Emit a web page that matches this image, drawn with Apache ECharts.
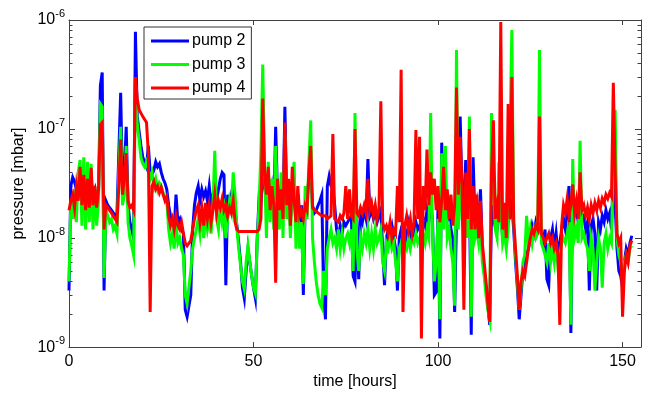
<!DOCTYPE html>
<html><head><meta charset="utf-8">
<script src="https://cdn.jsdelivr.net/npm/echarts@6/dist/echarts.min.js"></script>
<style>html,body{margin:0;padding:0;background:#fff}#c{width:648px;height:395px}</style>
</head><body><div id="c"></div><script>
const hours = [
0,0.5,1,1.5,2,2.5,3,3.5,4,4.5,
5,5.5,6,6.5,7,7.5,8,8.5,9,9.5,
10,10.5,11,11.5,12,12.5,13,13.5,14,14.5,
15,15.5,16,16.5,17,17.5,18,18.5,19,19.5,
20,20.5,21,21.5,22,22.5,23,23.5,24,24.5,
25,25.5,26,26.5,27,27.5,28,28.5,29,29.5,
30,30.5,31,31.5,32,32.5,33,33.5,34,34.5,
35,35.5,36,36.5,37,37.5,38,38.5,39,39.5,
40,40.5,41,41.5,42,42.5,43,43.5,44,44.5,
45,45.5,46,46.5,47,47.5,48,48.5,49,49.5,
50,50.5,51,51.5,52,52.5,53,53.5,54,54.5,
55,55.5,56,56.5,57,57.5,58,58.5,59,59.5,
60,60.5,61,61.5,62,62.5,63,63.5,64,64.5,
65,65.5,66,66.5,67,67.5,68,68.5,69,69.5,
70,70.5,71,71.5,72,72.5,73,73.5,74,74.5,
75,75.5,76,76.5,77,77.5,78,78.5,79,79.5,
80,80.5,81,81.5,82,82.5,83,83.5,84,84.5,
85,85.5,86,86.5,87,87.5,88,88.5,89,89.5,
90,90.5,91,91.5,92,92.5,93,93.5,94,94.5,
95,95.5,96,96.5,97,97.5,98,98.5,99,99.5,
100,100.5,101,101.5,102,102.5,103,103.5,104,104.5,
105,105.5,106,106.5,107,107.5,108,108.5,109,109.5,
110,110.5,111,111.5,112,112.5,113,113.5,114,114.5,
115,115.5,116,116.5,117,117.5,118,118.5,119,119.5,
120,120.5,121,121.5,122,122.5,123,123.5,124,124.5,
125,125.5,126,126.5,127,127.5,128,128.5,129,129.5,
130,130.5,131,131.5,132,132.5,133,133.5,134,134.5,
135,135.5,136,136.5,137,137.5,138,138.5,139,139.5,
140,140.5,141,141.5,142,142.5,143,143.5,144,144.5,
145,145.5,146,146.5,147,147.5,148,148.5,149,149.5,
150,150.5,151,151.5,152,152.5];

const pump2 = [
3.3e-9,30e-9,36e-9,33e-9,28e-9,34e-9,38e-9,26e-9,32e-9,24e-9,
30e-9,22e-9,34e-9,25e-9,28e-9,20e-9,26e-9,250e-9,330e-9,3.3e-9,
22e-9,20e-9,19e-9,18e-9,17e-9,16e-9,17e-9,60e-9,215e-9,30e-9,
40e-9,105e-9,20e-9,14e-9,12e-9,10e-9,780e-9,130e-9,95e-9,70e-9,
55e-9,50e-9,45e-9,70e-9,40e-9,38e-9,42e-9,50e-9,45e-9,48e-9,
40e-9,35e-9,32e-9,28e-9,20e-9,16e-9,14e-9,12e-9,25e-9,14e-9,
15e-9,12e-9,11e-9,2.2e-9,1.9e-9,1.9e-9,3.0e-9,12e-9,20e-9,26e-9,
30e-9,22e-9,28e-9,24e-9,27e-9,22e-9,30e-9,20e-9,25e-9,30e-9,
22e-9,28e-9,35e-9,40e-9,38e-9,3.7e-9,25e-9,20e-9,25e-9,22e-9,
18e-9,13e-9,9e-9,6e-9,3.5e-9,2.8e-9,5e-9,8e-9,6e-9,4.5e-9,
3.5e-9,2.8e-9,10e-9,23e-9,20e-9,40e-9,30e-9,22e-9,35e-9,20e-9,
28e-9,18e-9,105e-9,25e-9,20e-9,30e-9,18e-9,160e-9,22e-9,30e-9,
15e-9,25e-9,30e-9,15e-9,25e-9,12e-9,20e-9,3.0e-9,20e-9,22e-9,
35e-9,40e-9,20e-9,17e-9,18e-9,20e-9,22e-9,25e-9,3.0e-9,1.8e-9,
30e-9,37e-9,30e-9,28e-9,20e-9,12e-9,10e-9,13e-9,11e-9,14e-9,
13e-9,14e-9,15e-9,16e-9,4.5e-9,4e-9,15e-9,4.2e-9,16e-9,14e-9,
18e-9,15e-9,53e-9,16e-9,18e-9,15e-9,17e-9,14e-9,16e-9,18e-9,
8e-9,3.7e-9,10e-9,12e-9,11e-9,13e-9,10e-9,8e-9,3.3e-9,10e-9,
12e-9,11e-9,12e-9,10e-9,13e-9,9e-9,12e-9,10e-9,14e-9,12e-9,
13e-9,12e-9,15e-9,13e-9,18e-9,14e-9,20e-9,15e-9,3.0e-9,3.2e-9,
20e-9,1.2e-9,75e-9,18e-9,20e-9,15e-9,18e-9,12e-9,10e-9,2.1e-9,
15e-9,20e-9,130e-9,25e-9,20e-9,52e-9,18e-9,25e-9,1.3e-9,55e-9,
15e-9,20e-9,12e-9,28e-9,8e-9,5e-9,3.5e-9,2.4e-9,1.6e-9,20e-9,
15e-9,18e-9,12e-9,16e-9,20e-9,10e-9,15e-9,9e-9,14e-9,16e-9,
20e-9,12e-9,6e-9,3.5e-9,1.8e-9,3.0e-9,5e-9,6e-9,7e-9,8e-9,
10e-9,13e-9,11e-9,14e-9,12e-9,13e-9,11e-9,9e-9,12e-9,4.2e-9,
3.7e-9,10e-9,12e-9,8e-9,11e-9,7e-9,9e-9,12e-9,15e-9,12e-9,
18e-9,30e-9,1.35e-9,28e-9,16e-9,18e-9,14e-9,20e-9,15e-9,16e-9,
12e-9,14e-9,3.3e-9,13e-9,15e-9,11e-9,3.3e-9,14e-9,12e-9,16e-9,
14e-9,18e-9,15e-9,17e-9,12e-9,40e-9,20e-9,8e-9,5e-9,4.5e-9,
3.5e-9,6e-9,8e-9,7e-9,9e-9,10.5e-9];

const pump3 = [
4.0e-9,22e-9,15e-9,28e-9,14e-9,40e-9,52e-9,13e-9,55e-9,12e-9,
50e-9,14e-9,48e-9,12e-9,30e-9,13e-9,22e-9,170e-9,160e-9,4.3e-9,
18e-9,16e-9,14e-9,15e-9,12e-9,13e-9,11e-9,40e-9,105e-9,20e-9,
25e-9,70e-9,14e-9,10e-9,8.5e-9,7e-9,250e-9,110e-9,80e-9,55e-9,
48e-9,45e-9,50e-9,42e-9,35e-9,40e-9,30e-9,35e-9,28e-9,32e-9,
30e-9,26e-9,25e-9,22e-9,12e-9,9e-9,11e-9,8e-9,14e-9,9e-9,
10e-9,8e-9,7e-9,3.0e-9,2.5e-9,2.6e-9,5e-9,8e-9,10e-9,12e-9,
15e-9,11e-9,18e-9,10e-9,16e-9,12e-9,15e-9,11e-9,20e-9,63e-9,
15e-9,12e-9,20e-9,14e-9,18e-9,10e-9,15e-9,22e-9,18e-9,40e-9,
25e-9,12e-9,8e-9,5.5e-9,4e-9,3.4e-9,6e-9,8.5e-9,6e-9,4.5e-9,
3.5e-9,3.1e-9,9e-9,20e-9,62e-9,390e-9,45e-9,10e-9,50e-9,14e-9,
35e-9,12e-9,70e-9,22e-9,12e-9,40e-9,10e-9,90e-9,15e-9,25e-9,
10e-9,30e-9,50e-9,8e-9,20e-9,8e-9,14e-9,3.8e-9,30e-9,15e-9,
50e-9,120e-9,10e-9,6e-9,4e-9,3e-9,2.5e-9,2.3e-9,5e-9,3.0e-9,
8e-9,10e-9,12e-9,9e-9,10e-9,8e-9,12e-9,8e-9,11e-9,8e-9,
10e-9,11e-9,9e-9,12e-9,5e-9,140e-9,8e-9,5e-9,10e-9,8e-9,
11e-9,9e-9,12e-9,8e-9,11e-9,8e-9,12e-9,9e-9,10e-9,12e-9,
6e-9,5e-9,9e-9,8e-9,10e-9,8e-9,9e-9,6e-9,4e-9,8e-9,
9e-9,8e-9,9e-9,8e-9,10e-9,8e-9,10e-9,9e-9,11e-9,9e-9,
10e-9,9e-9,11e-9,9e-9,12e-9,10e-9,140e-9,12e-9,4e-9,6e-9,
15e-9,1.8e-9,60e-9,12e-9,70e-9,10e-9,12e-9,8e-9,6e-9,2.4e-9,
530e-9,12e-9,60e-9,15e-9,12e-9,30e-9,10e-9,130e-9,1.9e-9,20e-9,
10e-9,12e-9,9e-9,14e-9,6e-9,4.5e-9,3e-9,2.2e-9,1.8e-9,140e-9,
30e-9,12e-9,10e-9,50e-9,18e-9,9e-9,11e-9,8e-9,12e-9,12e-9,
810e-9,15e-9,7e-9,4e-9,2.2e-9,3.5e-9,6e-9,7e-9,16e-9,9e-9,
12e-9,9e-9,12e-9,10e-9,11e-9,530e-9,9e-9,8e-9,7e-9,6e-9,
9e-9,6e-9,8e-9,6e-9,9e-9,5.5e-9,7e-9,9e-9,10e-9,9e-9,
11e-9,14e-9,1.6e-9,53e-9,10e-9,12e-9,9e-9,78e-9,10e-9,11e-9,
9e-9,8e-9,5e-9,10e-9,8e-9,3.3e-9,6e-9,10e-9,8e-9,3.5e-9,
9e-9,11e-9,8e-9,10e-9,9e-9,60e-9,150e-9,10e-9,7e-9,6e-9,
4e-9,6e-9,7e-9,6e-9,8e-9,8.5e-9];

const pump4 = [
18e-9,22e-9,25e-9,19e-9,30e-9,22e-9,45e-9,20e-9,38e-9,18e-9,
35e-9,19e-9,44e-9,20e-9,30e-9,19e-9,28e-9,110e-9,115e-9,12e-9,
20e-9,19e-9,19e-9,17e-9,17e-9,15e-9,14e-9,30e-9,80e-9,25e-9,
35e-9,60e-9,22e-9,19e-9,20e-9,18e-9,300e-9,190e-9,150e-9,140e-9,
130e-9,125e-9,115e-9,60e-9,2.1e-9,30e-9,33e-9,28e-9,30e-9,26e-9,
29e-9,25e-9,22e-9,24e-9,16e-9,13e-9,15e-9,12e-9,16e-9,13e-9,
12e-9,14e-9,11e-9,9e-9,8.5e-9,8.6e-9,9.5e-9,12e-9,15e-9,18e-9,
20e-9,14e-9,19e-9,13e-9,21e-9,15e-9,20e-9,14e-9,18e-9,25e-9,
17e-9,22e-9,19e-9,23e-9,18e-9,20e-9,16e-9,19e-9,17e-9,22e-9,
14e-9,12e-9,11.5e-9,11.5e-9,11.5e-9,11.2e-9,11.5e-9,11.5e-9,11.5e-9,11.3e-9,
11.5e-9,11.5e-9,11.5e-9,12e-9,15e-9,190e-9,40e-9,25e-9,45e-9,18e-9,
30e-9,20e-9,3.9e-9,35e-9,18e-9,28e-9,15e-9,115e-9,20e-9,35e-9,
13e-9,45e-9,22e-9,14e-9,30e-9,16e-9,18e-9,15e-9,20e-9,18e-9,
40e-9,70e-9,19e-9,18e-9,18e-9,17e-9,17e-9,16e-9,16e-9,16e-9,
15e-9,15e-9,16e-9,90e-9,15e-9,15e-9,14e-9,16e-9,15e-9,17e-9,
30e-9,15e-9,28e-9,16e-9,15e-9,100e-9,17e-9,16e-9,19e-9,17e-9,
20e-9,17e-9,35e-9,18e-9,21e-9,16e-9,20e-9,15e-9,18e-9,180e-9,
14e-9,12e-9,13e-9,11e-9,14e-9,10e-9,12e-9,11e-9,30e-9,14e-9,
350e-9,2.1e-9,13e-9,16e-9,12e-9,15e-9,11e-9,14e-9,98e-9,15e-9,
85e-9,1.2e-9,30e-9,18e-9,65e-9,20e-9,40e-9,25e-9,35e-9,18e-9,
30e-9,14e-9,22e-9,45e-9,18e-9,28e-9,15e-9,25e-9,13e-9,20e-9,
240e-9,25e-9,85e-9,30e-9,2.2e-9,40e-9,15e-9,100e-9,12e-9,30e-9,
12e-9,25e-9,10e-9,22e-9,9e-9,6e-9,4e-9,2.5e-9,1.7e-9,40e-9,
120e-9,15e-9,20e-9,14e-9,960e-9,12e-9,21e-9,10e-9,170e-9,15e-9,
300e-9,14e-9,8e-9,4.5e-9,2.2e-9,4e-9,5e-9,4.5e-9,6e-9,8e-9,
10e-9,12e-9,11e-9,13e-9,12e-9,130e-9,11e-9,10e-9,9e-9,10e-9,
11e-9,9e-9,10e-9,8e-9,9e-9,7e-9,1.6e-9,13e-9,20e-9,17e-9,
23e-9,16e-9,20e-9,31e-9,17e-9,22e-9,15e-9,40e-9,18e-9,20e-9,
16e-9,19e-9,15e-9,20e-9,17e-9,21e-9,18e-9,22e-9,19e-9,23e-9,
21e-9,25e-9,23e-9,26e-9,24e-9,265e-9,40e-9,11e-9,9e-9,10e-9,
1.9e-9,5e-9,7e-9,6e-9,8.5e-9,9.5e-9];

const seriesNames = ['pump 2', 'pump 3', 'pump 4'];
const seriesColors = ['#0000ff', '#00ff00', '#ff0000'];
const xTicks = [0, 50, 100, 150];
const yDecades = [-9, -8, -7, -6];
const minorFactors = [2, 3, 4, 5, 6, 7, 8, 9];

const FONT = "'Liberation Sans', Arial, sans-serif";
const AXIS_COLOR = '#404040';

const minorLog = [];
for (let d = -9; d < -6; d++) for (const k of minorFactors) minorLog.push(d + Math.log10(k));

const chart = echarts.init(document.getElementById('c'), null, {renderer: 'canvas'});
const values = [pump2, pump3, pump4];

function expLabel(v) {
  const e = Math.round(Math.log10(v));
  return '{b|10}{e|' + e + '}';
}
const richLabel = {
  b: {fontSize: 16, fontFamily: FONT, color: '#000'},
  e: {fontSize: 11, fontFamily: FONT, color: '#000', padding: [0, 0, 12, 0]}
};

const xBase = {
  type: 'value', min: 0, max: 155, interval: 50,
  splitLine: {show: false},
  axisLine: {show: true, onZero: false, lineStyle: {color: AXIS_COLOR, width: 1}},
  axisTick: {show: true, inside: true, length: 5, lineStyle: {color: AXIS_COLOR}, customValues: xTicks}
};
const logBase = {
  type: 'log', logBase: 10, min: 1e-9, max: 1e-6,
  splitLine: {show: false},
  axisLine: {show: true, lineStyle: {color: AXIS_COLOR, width: 1}},
  axisTick: {show: true, inside: true, length: 6, lineStyle: {color: AXIS_COLOR}}
};
const minorBase = {
  type: 'value', min: -9, max: -6,
  splitLine: {show: false},
  axisLine: {show: false},
  axisLabel: {show: false},
  axisTick: {show: true, inside: true, length: 3.5, lineStyle: {color: AXIS_COLOR}, customValues: minorLog}
};

chart.setOption({
  animation: false,
  backgroundColor: '#ffffff',
  textStyle: {fontFamily: FONT},
  grid: {left: 69, right: 7, top: 20, bottom: 45, containLabel: false},
  legend: {
    orient: 'vertical', left: 144, top: 27,
    padding: [5, 6, 2, 7], itemGap: 5.5,
    itemWidth: 38, itemHeight: 3, icon: 'rect',
    backgroundColor: '#ffffff', borderColor: '#333333', borderWidth: 1, borderRadius: 0,
    textStyle: {fontSize: 16, color: '#000', fontFamily: FONT, lineHeight: 18, padding: [0, 0, 0, -2]},
    data: seriesNames
  },
  xAxis: [
    Object.assign({}, xBase, {
      position: 'bottom',
      axisLabel: {show: true, fontSize: 16, color: '#000', fontFamily: FONT, margin: 6, customValues: xTicks},
      name: 'time [hours]', nameLocation: 'middle', nameGap: 26,
      nameTextStyle: {fontSize: 16, color: '#000', fontFamily: FONT}
    }),
    Object.assign({}, xBase, {position: 'top', axisLabel: {show: false}})
  ],
  yAxis: [
    Object.assign({}, logBase, {
      position: 'left',
      axisLabel: {show: true, margin: 4, formatter: expLabel, rich: richLabel},
      name: 'pressure [mbar]', nameLocation: 'middle', nameGap: 35,
      nameTextStyle: {fontSize: 16, color: '#000', fontFamily: FONT}
    }),
    Object.assign({}, minorBase, {position: 'left'}),
    Object.assign({}, logBase, {position: 'right', axisLabel: {show: false}}),
    Object.assign({}, minorBase, {position: 'right'})
  ],
  series: seriesNames.map((name, s) => ({
    type: 'line', name: name,
    xAxisIndex: 0, yAxisIndex: 0,
    data: hours.map((t, i) => [t, values[s][i]]),
    showSymbol: false, symbol: 'none', silent: true,
    lineStyle: {width: 3, color: seriesColors[s], join: 'miter'},
    itemStyle: {color: seriesColors[s]},
    z: 2 + s
  }))
});
</script></body></html>
